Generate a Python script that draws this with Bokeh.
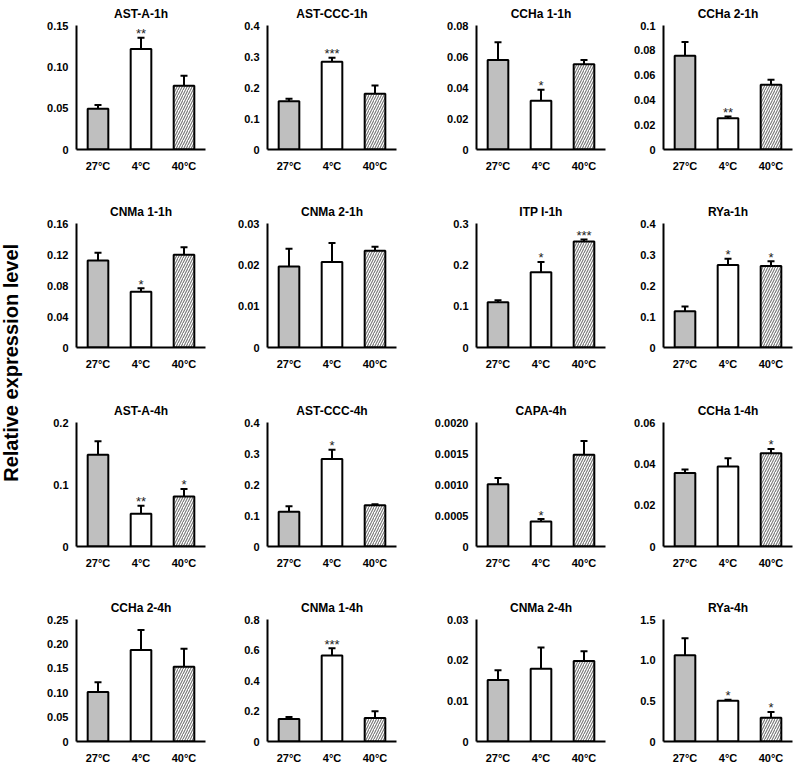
import math
from bokeh.plotting import figure
from bokeh.models import (ColumnDataSource, Range1d, FactorRange, FixedTicker,
                          Whisker, TeeHead, Label)
from bokeh.layouts import row, column
from bokeh.embed import file_html
from bokeh.resources import INLINE
from bokeh.core.properties import value

# ---------------- data ----------------
conditions = ["27°C", "4°C", "40°C"]

titles = ["AST-A-1h", "AST-CCC-1h", "CCHa 1-1h", "CCHa 2-1h",
          "CNMa 1-1h", "CNMa 2-1h", "ITP I-1h", "RYa-1h",
          "AST-A-4h", "AST-CCC-4h", "CAPA-4h", "CCHa 1-4h",
          "CCHa 2-4h", "CNMa 1-4h", "CNMa 2-4h", "RYa-4h"]

means = [
    [0.0494, 0.1217, 0.0772],
    [0.156, 0.283, 0.1795],
    [0.0577, 0.0314, 0.055],
    [0.0756, 0.0252, 0.0523],
    [0.1121, 0.072, 0.1198],
    [0.0196, 0.0207, 0.0234],
    [0.1096, 0.182, 0.2565],
    [0.117, 0.2665, 0.263],
    [0.148, 0.0527, 0.0808],
    [0.1118, 0.282, 0.1333],
    [0.001003, 0.000403, 0.00148],
    [0.0356, 0.0387, 0.0451],
    [0.1016, 0.1876, 0.153],
    [0.1476, 0.564, 0.154],
    [0.0151, 0.0179, 0.0198],
    [1.061, 0.5, 0.293],
]

errors = [
    [0.0043, 0.0136, 0.012],
    [0.0075, 0.013, 0.027],
    [0.0115, 0.0072, 0.0027],
    [0.011, 0.0014, 0.004],
    [0.0103, 0.0043, 0.0095],
    [0.0043, 0.0046, 0.001],
    [0.005, 0.025, 0.0045],
    [0.015, 0.0195, 0.015],
    [0.0217, 0.013, 0.012],
    [0.018, 0.03, 0.003],
    [0.0001, 0.00004, 0.00022],
    [0.0017, 0.004, 0.0021],
    [0.02, 0.041, 0.037],
    [0.013, 0.047, 0.045],
    [0.0024, 0.0052, 0.0024],
    [0.207, 0.012, 0.07],
]

stars = [
    ["", "**", ""], ["", "***", ""], ["", "*", ""], ["", "**", ""],
    ["", "*", ""], ["", "", ""], ["", "*", "***"], ["", "*", "*"],
    ["", "**", "*"], ["", "*", ""], ["", "*", ""], ["", "", "*"],
    ["", "", ""], ["", "***", ""], ["", "", ""], ["", "*", "*"],
]

y_ticks = [
    [0, 0.05, 0.10, 0.15],
    [0, 0.1, 0.2, 0.3, 0.4],
    [0, 0.02, 0.04, 0.06, 0.08],
    [0, 0.02, 0.04, 0.06, 0.08, 0.1],
    [0, 0.04, 0.08, 0.12, 0.16],
    [0, 0.01, 0.02, 0.03],
    [0, 0.1, 0.2, 0.3],
    [0, 0.1, 0.2, 0.3, 0.4],
    [0, 0.1, 0.2],
    [0, 0.1, 0.2, 0.3, 0.4],
    [0, 0.0005, 0.001, 0.0015, 0.002],
    [0, 0.02, 0.04, 0.06],
    [0, 0.05, 0.1, 0.15, 0.2, 0.25],
    [0, 0.2, 0.4, 0.6, 0.8],
    [0, 0.01, 0.02, 0.03],
    [0, 0.5, 1.0, 1.5],
]

y_tick_labels = [
    ["0", "0.05", "0.10", "0.15"],
    ["0", "0.1", "0.2", "0.3", "0.4"],
    ["0", "0.02", "0.04", "0.06", "0.08"],
    ["0", "0.02", "0.04", "0.06", "0.08", "0.1"],
    ["0", "0.04", "0.08", "0.12", "0.16"],
    ["0", "0.01", "0.02", "0.03"],
    ["0", "0.1", "0.2", "0.3"],
    ["0", "0.1", "0.2", "0.3", "0.4"],
    ["0", "0.1", "0.2"],
    ["0", "0.1", "0.2", "0.3", "0.4"],
    ["0", "0.0005", "0.0010", "0.0015", "0.0020"],
    ["0", "0.02", "0.04", "0.06"],
    ["0", "0.05", "0.10", "0.15", "0.20", "0.25"],
    ["0", "0.2", "0.4", "0.6", "0.8"],
    ["0", "0.01", "0.02", "0.03"],
    ["0", "0.5", "1.0", "1.5"],
]

y_label = "Relative expression level"

# ---------------- styling ----------------
FONT = "Liberation Sans"
bar_fills = ["#bfbfbf", "#ffffff", "#ffffff"]
bar_hatches = [" ", " ", "/"]

LABEL_W = 28
col_widths = [191, 205, 191, 185]
col_left = [48, 48, 52, 48]
col_right = [14, 28, 10, 8]
row_heights = [198, 199, 197, 172]
TOP = 25
FRAME_H = 124


def make_panel(i):
    r, c = divmod(i, 4)
    h = row_heights[r]
    bottom = h - TOP - FRAME_H
    ticks = y_ticks[i]
    p = figure(width=col_widths[c], height=h,
               x_range=FactorRange(*conditions),
               y_range=Range1d(0, ticks[-1]),
               output_backend="svg", toolbar_location=None,
               min_border_left=col_left[c], min_border_right=col_right[c],
               min_border_top=TOP, min_border_bottom=bottom,
               title=titles[i])
    p.outline_line_color = None
    p.background_fill_color = "white"
    p.border_fill_color = "white"
    p.grid.visible = False

    p.title.text_font = FONT
    p.title.text_font_style = "bold"
    p.title.text_font_size = "12px"
    p.title.align = "center"
    p.title.standoff = 9
    p.title.text_color = "black"

    upper = [m + e for m, e in zip(means[i], errors[i])]
    src = ColumnDataSource(dict(cond=conditions, mean=means[i], upper=upper,
                                star=stars[i], fill=bar_fills,
                                hatch=bar_hatches))
    p.vbar(x="cond", top="mean", width=0.48, source=src,
           fill_color="fill", line_color="black", line_width=2,
           hatch_pattern="hatch", hatch_color="#767676",
           hatch_scale=5, hatch_weight=1.1)
    w = Whisker(base="cond", upper="upper", lower="mean", source=src,
                line_color="black", line_width=2,
                upper_head=TeeHead(size=7, line_color="black", line_width=2),
                lower_head=None)
    p.add_layout(w)
    p.text(x="cond", y="upper", text="star", source=src,
           text_align="center", text_baseline="middle",
           text_font=value(FONT), text_font_size="13px",
           text_color="#222222", y_offset=-4)

    for ax in (p.xaxis[0], p.yaxis[0]):
        ax.axis_line_width = 2
        ax.axis_line_color = "black"
        ax.major_tick_line_color = None
        ax.minor_tick_line_color = None
        ax.major_tick_out = 0
        ax.major_tick_in = 0
        ax.major_label_text_font = FONT
        ax.major_label_text_font_style = "bold"
        ax.major_label_text_font_size = "11px"
        ax.major_label_text_color = "black"
        ax.major_label_standoff = 8
    p.xaxis[0].major_label_standoff = 10

    p.yaxis[0].ticker = FixedTicker(ticks=ticks)
    p.yaxis[0].major_label_overrides = {t: lab for t, lab in zip(ticks, y_tick_labels[i])}
    return p


panels = [make_panel(i) for i in range(16)]
rows = [row(*panels[r * 4:(r + 1) * 4]) for r in range(4)]
grid = column(*rows)

total_h = sum(row_heights)
lab = figure(width=LABEL_W, height=total_h, x_range=Range1d(0, 1), y_range=Range1d(0, 1),
             output_backend="svg", toolbar_location=None,
             x_axis_type=None, y_axis_type=None, min_border=0)
lab.outline_line_color = None
lab.grid.visible = False
lab.add_layout(Label(x=0.36, y=0.527, text=y_label, angle=math.pi / 2,
                     text_align="center", text_baseline="middle",
                     text_font=FONT, text_font_style="bold",
                     text_font_size="20px", text_color="black"))

layout = row(lab, grid)

open("out.html", "w").write(file_html(layout, INLINE))
